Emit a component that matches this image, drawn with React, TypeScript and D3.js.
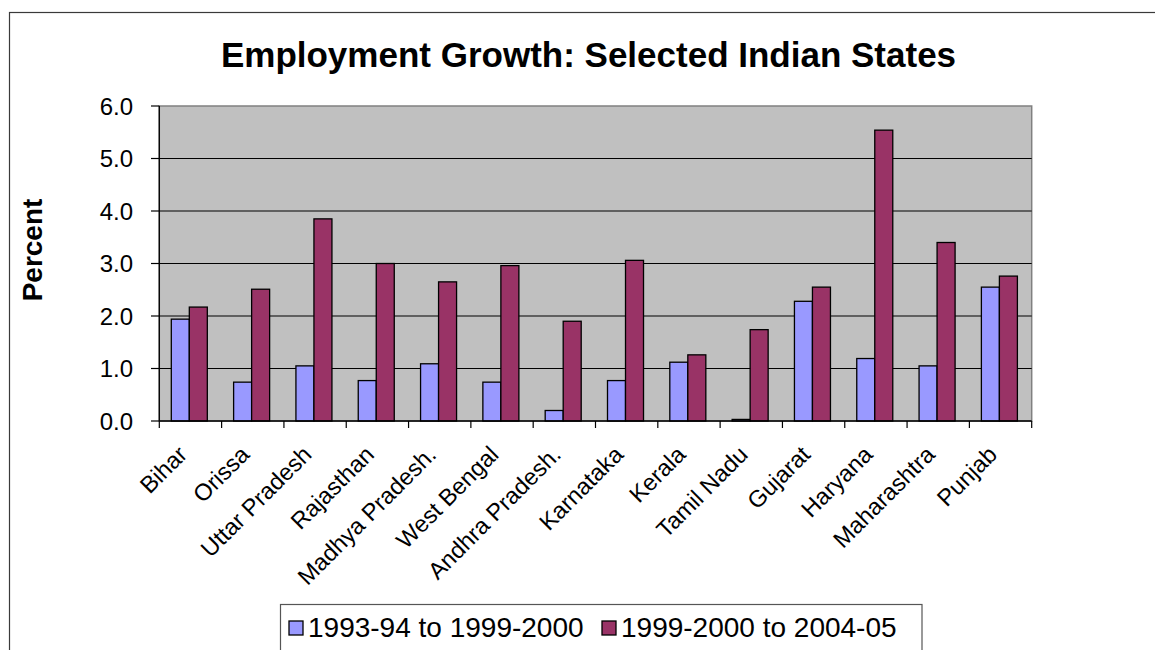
import React from "react";
import * as d3 from "d3";

const categories = [
  "Bihar", "Orissa", "Uttar Pradesh", "Rajasthan", "Madhya Pradesh.", "West Bengal",
  "Andhra Pradesh.", "Karnataka", "Kerala", "Tamil Nadu", "Gujarat", "Haryana",
  "Maharashtra", "Punjab",
];
const series1Name = "1993-94 to 1999-2000";
const series2Name = "1999-2000 to 2004-05";
const series1 = [1.94, 0.74, 1.05, 0.77, 1.09, 0.74, 0.2, 0.77, 1.12, 0.03, 2.28, 1.19, 1.05, 2.55];
const series2 = [2.17, 2.51, 3.85, 3.0, 2.65, 2.96, 1.9, 3.06, 1.26, 1.74, 2.55, 5.54, 3.4, 2.76];
const yTicks = [0, 1, 2, 3, 4, 5, 6];
const title = "Employment Growth: Selected Indian States";
const yTitle = "Percent";

const W = 1155, H = 650;
const left = 159.3, right = 1031.7, top = 106, bottom = 421;
const FONT = "'Liberation Sans', Arial, Helvetica, sans-serif";
const C1 = "#9999FF", C2 = "#993366";

export default function App() {
  const x = d3.scaleBand<string>().domain(categories).range([left, right]).paddingInner(0).paddingOuter(0);
  const bw = x.bandwidth();
  const inner = d3.scaleBand<string>().domain(["a", "b"]).range([12, bw - 14.3]);
  const y = d3.scaleLinear().domain([0, 6]).range([bottom, top]);
  const fmt = d3.format(".1f");
  const seriesList = [
    { key: "a", values: series1, color: C1 },
    { key: "b", values: series2, color: C2 },
  ];
  const boundaries = categories.map((c) => x(c)!).concat([right]);

  return (
    <svg width={W} height={H} style={{ position: "absolute", left: 0, top: 0, background: "#fff" }} fontFamily={FONT}>
      <rect x={9.5} y={12.5} width={W + 20} height={H + 20} fill="#fff" stroke="#3a3a3a" strokeWidth={1.2} />
      <text x={588.5} y={67} textAnchor="middle" fontSize={35} fontWeight="bold" fill="#000">{title}</text>

      {/* plot area */}
      <rect x={left} y={top} width={right - left} height={bottom - top} fill="#C0C0C0" stroke="#808080" strokeWidth={1.5} />
      {yTicks.filter((t) => t > 0 && t < 6).map((t) => (
        <line key={t} x1={left} x2={right} y1={y(t)} y2={y(t)} stroke="#000" strokeWidth={1} />
      ))}

      {/* bars */}
      {seriesList.map((s) =>
        categories.map((c, i) => (
          <rect key={s.key + c} x={x(c)! + inner(s.key)!} y={y(s.values[i])} width={inner.bandwidth()}
            height={y(0) - y(s.values[i])} fill={s.color} stroke="#000" strokeWidth={1.3} />
        ))
      )}

      {/* axes */}
      <line x1={left} x2={left} y1={top} y2={bottom} stroke="#000" strokeWidth={1.3} />
      <line x1={left} x2={right} y1={bottom} y2={bottom} stroke="#000" strokeWidth={1.3} />
      {yTicks.map((t) => (
        <g key={t}>
          <line x1={151} x2={left} y1={y(t)} y2={y(t)} stroke="#000" strokeWidth={1.2} />
          <text x={133} y={y(t)} dy="0.36em" textAnchor="end" fontSize={24} fill="#000">{fmt(t)}</text>
        </g>
      ))}
      {boundaries.map((b, i) => (
        <line key={i} x1={b} x2={b} y1={bottom} y2={428} stroke="#000" strokeWidth={1.2} />
      ))}
      {categories.map((c) => {
        const cx = x(c)! + bw / 2;
        return (
          <text key={c} transform={`translate(${cx - 2},${456}) rotate(-45)`} textAnchor="end" fontSize={23.5} fill="#000">{c}</text>
        );
      })}
      <text transform={`translate(42,250) rotate(-90)`} textAnchor="middle" fontSize={28} fontWeight="bold" fill="#000">{yTitle}</text>

      {/* legend */}
      <rect x={280.5} y={604.5} width={641.5} height={80} fill="#fff" stroke="#555" strokeWidth={1.2} />
      {[{ name: series1Name, color: C1, sx: 289 }, { name: series2Name, color: C2, sx: 602 }].map((l) => (
        <g key={l.name}>
          <rect x={l.sx} y={621} width={14} height={14} fill={l.color} stroke="#000" strokeWidth={1.3} />
          <text x={l.sx + 19} y={636.5} fontSize={28} fill="#000">{l.name}</text>
        </g>
      ))}
    </svg>
  );
}
